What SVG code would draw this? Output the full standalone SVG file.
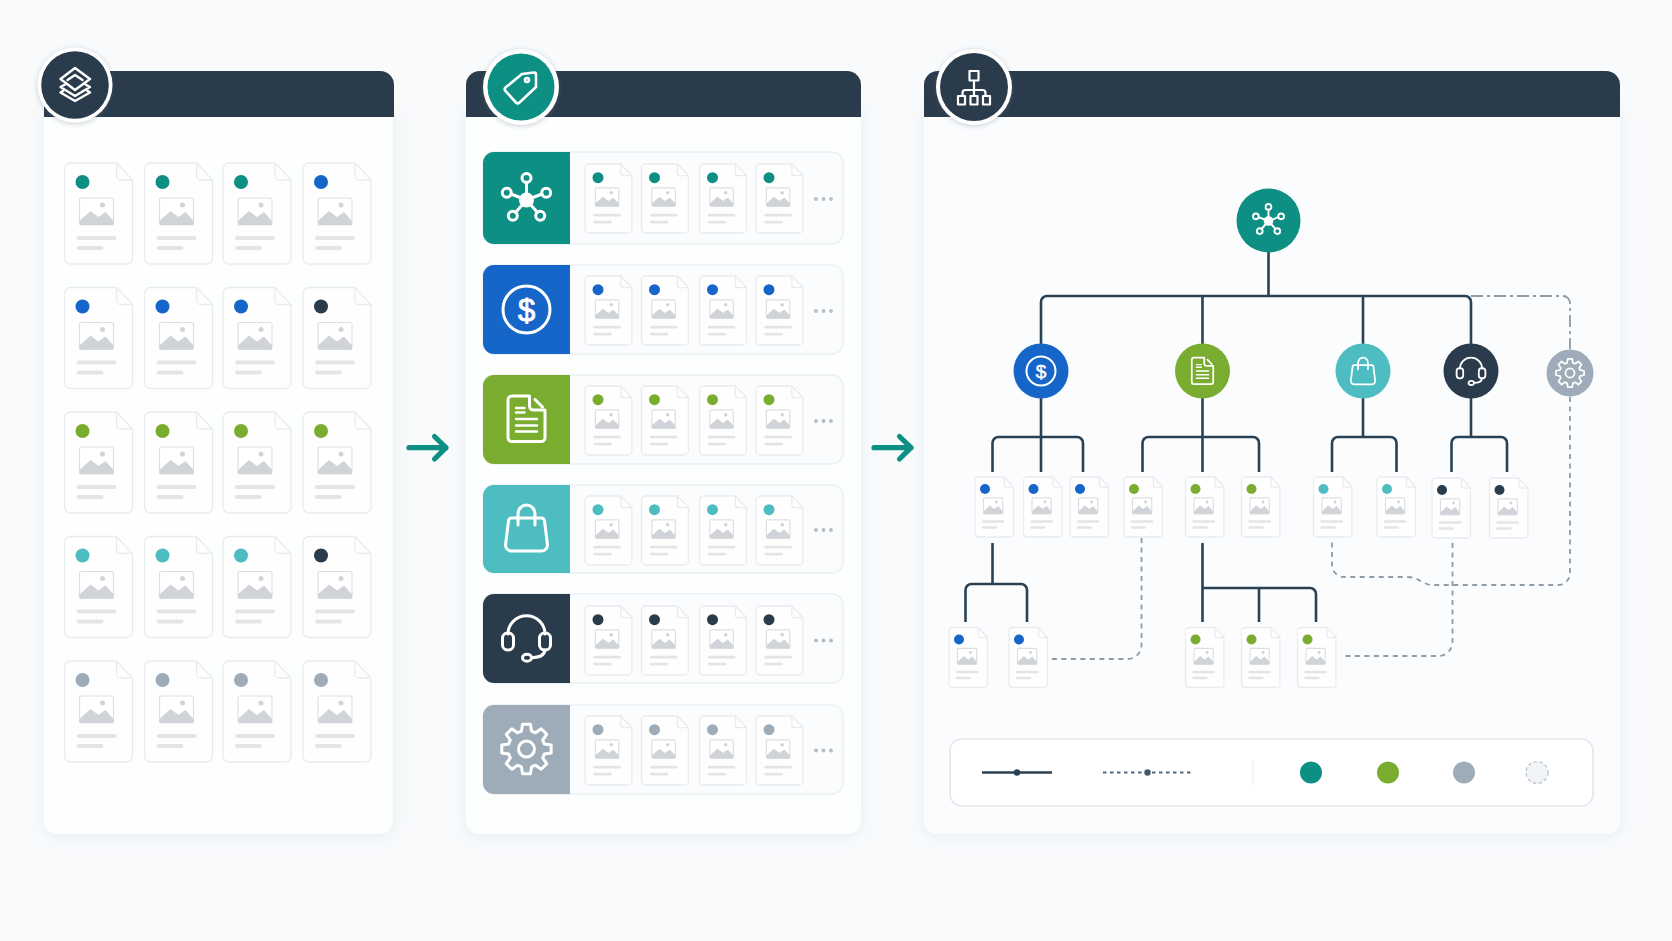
<svg xmlns="http://www.w3.org/2000/svg" width="1672" height="941" viewBox="0 0 1672 941">
<style>
.teal{fill:#0e8f83}.blue{fill:#1566c8}.green{fill:#7aad2f}.cyan{fill:#4dbdc2}.navy{fill:#2a3b4b}.gray{fill:#9eacb9}
.body{fill:#fdfefe;filter:url(#soft)}
.head{fill:#2a3b4b}
.dp{fill:#fefefe;stroke:#e9ecef;stroke-width:1.3;vector-effect:non-scaling-stroke}
.df{fill:none;stroke:#e9ecef;stroke-width:1.3;vector-effect:non-scaling-stroke}
.ib{fill:#fff;stroke:#dcdfe2;stroke-width:1.2;vector-effect:non-scaling-stroke}
.im{fill:#d0d3d7}
.ln{stroke:#e2e5e8;stroke-width:4;stroke-linecap:round;fill:none}
.row{fill:#fbfcfd;stroke:#eceff2;stroke-width:1.3}
.more{fill:#b4bbc2}
.ic{fill:none;stroke:#fff;stroke-width:3;stroke-linecap:round;stroke-linejoin:round}
.icf{fill:#fff}
.ring{fill:#fff;filter:url(#halo)}
.solid{fill:none;stroke:#2a4154;stroke-width:2.6;stroke-linejoin:round}
.dash{fill:none;stroke:#8f9ba6;stroke-width:1.8;stroke-dasharray:5 4.5}
.flow{fill:none;stroke:#0e8f83;stroke-width:5.2;stroke-linecap:round;stroke-linejoin:round}
.usd{font-family:"Liberation Sans",Arial,sans-serif;fill:#fff;stroke:#fff;text-anchor:middle}
</style>
<defs>
<filter id="soft" x="-10%" y="-10%" width="120%" height="120%"><feDropShadow dx="0" dy="2" stdDeviation="8" flood-color="#8596a8" flood-opacity="0.12"/></filter>
<filter id="halo" x="-30%" y="-30%" width="160%" height="160%"><feDropShadow dx="0" dy="1" stdDeviation="2.5" flood-color="#5c6c7c" flood-opacity="0.35"/></filter>
<g id="doc">
<path class="dp" d="M6 0H52L68 17V95a6 6 0 0 1-6 6H6a6 6 0 0 1-6-6V6a6 6 0 0 1 6-6Z"/>
<path class="df" d="M52 0V13a4 4 0 0 0 4 4H68"/>
<rect class="ib" x="15" y="35" width="34" height="27" rx="2"/>
<circle class="im" cx="38" cy="42" r="2.500"/>
<path class="im" d="M15 60V58L26 48L34 54L41 49L49 58V62H17a2 2 0 0 1-2-2Z"/>
<path class="ln" d="M14 75H50M14 85H37"/>
</g>
<g id="docL"><use href="#doc"/><circle cx="18" cy="19" r="7"/></g>
<g id="docM"><use href="#doc" transform="scale(.69 .683)"/><circle cx="13" cy="13.700" r="5.500"/></g>
<g id="docS"><use href="#doc" transform="scale(.566 .594)"/><circle cx="10" cy="12" r="5"/></g>
<g id="hub" class="ic">
<path d="M0 0V-18M0 0L15.500-6M0 0L-15.500-6M0 0L11 12.500M0 0L-11 12.500"/>
<circle cx="0" cy="-22" r="4.500"/><circle cx="19.700" cy="-7.300" r="4.500"/><circle cx="-19.700" cy="-7.300" r="4.500"/><circle cx="13.700" cy="15.700" r="4.500"/><circle cx="-13.700" cy="15.700" r="4.500"/>
<circle class="icf" cx="0" cy="0" r="7.500" stroke="none"/>
</g>
<g id="paper" class="ic">
<path d="M-14.500-23H3V-13a4 4 0 0 0 4 4H18.500V18.500a4 4 0 0 1-4 4H-14.500a4 4 0 0 1-4-4V-19a4 4 0 0 1 4-4Z"/>
<path d="M8.500-19.500L16-12"/>
<path d="M-10.500-11H-2M-10.500-6.500H-2M-10.500 0H10.500M-10.500 6.500H10.500M-10.500 12.500H10.500" stroke-width="2.400"/>
</g>
<g id="bag" class="ic">
<path d="M-15-10H15a3 3 0 0 1 3 3L21 17a6 6 0 0 1-6 6H-15a6 6 0 0 1-6-6L-18-7a3 3 0 0 1 3-3Z"/>
<path d="M-8.500-3V-14a8.500 9 0 0 1 17 0V-3"/>
</g>
<g id="headset" class="ic">
<path d="M-18.500-4V-3a18.500 18.300 0 0 1 37 0V-4"/>
<rect x="-24" y="-4" width="11" height="17" rx="5"/>
<rect x="13" y="-4" width="11" height="17" rx="5"/>
<path d="M18.500 13C18 18 14 20.500 5 20.700"/>
<ellipse cx="0.500" cy="20.700" rx="4.500" ry="3.500"/>
</g>
<g id="gear" class="ic">
<path d="M-5.100-17.780L-3.910-24.690H3.910L5.100-17.780L8.970-16.180L14.690-20.230L20.230-14.690L16.180-8.970L17.780-5.100L24.690-3.910V3.910L17.780 5.100L16.180 8.970L20.230 14.690L14.690 20.230L8.970 16.180L5.100 17.780L3.910 24.690H-3.910L-5.100 17.780L-8.970 16.180L-14.690 20.230L-20.230 14.690L-16.180 8.970L-17.780 5.100L-24.690 3.910V-3.910L-17.780-5.100L-16.180-8.970L-20.230-14.690L-14.690-20.230L-8.970-16.180Z"/>
<circle cx="0" cy="0" r="8"/>
</g>
<g id="more" class="more"><circle cx="0" cy="0" r="1.900"/><circle cx="7.500" cy="0" r="1.900"/><circle cx="15" cy="0" r="1.900"/></g>
</defs>
<rect width="1672" height="941" fill="#f8fafc"/>

<g id="panel-source">
<path class="body" d="M44 110H393V820a14 14 0 0 1-14 14H58a14 14 0 0 1-14-14Z"/>
<path class="head" d="M44 71H380a14 14 0 0 1 14 14V117H44Z"/>
</g>
<g id="badge-source">
<circle class="ring" cx="75" cy="85" r="37.500"/><circle class="navy" cx="75" cy="85" r="33.800"/>
<g class="ic" style="stroke-width:2.400">
<path d="M75 68L90 79L75 90L60.500 79Z"/><path d="M67.500 80L75 75L82.500 80"/>
<path d="M65 84.500L60.500 87L75 96L90 87L85.500 84.500"/><path d="M63.500 90.500L60.500 92.500L75 101L90 92.500L87 90.500"/>
</g>
</g>
<g id="panel-tagged">
<path class="body" d="M466 110H861V820a14 14 0 0 1-14 14H480a14 14 0 0 1-14-14Z"/>
<path class="head" d="M480 71H847a14 14 0 0 1 14 14V117H466V85a14 14 0 0 1 14-14Z"/>
</g>
<g id="badge-tagged">
<circle class="ring" cx="521" cy="87" r="38"/><circle class="teal" cx="521" cy="87" r="33.500"/>
<g class="ic" style="stroke-width:2.600"><path d="M522 74L534 72.500a2 2 0 0 1 2 2V87L519.500 102.500a2.500 2.500 0 0 1-3.500 0L505.500 91a2.500 2.500 0 0 1 0-3.500Z"/><circle cx="527" cy="80" r="2"/></g>
</g>
<g id="panel-tree">
<path class="body" d="M924 110H1620V820a14 14 0 0 1-14 14H938a14 14 0 0 1-14-14Z" style="fill:#fbfcfe"/>
<path class="head" d="M938 71H1606a14 14 0 0 1 14 14V117H924V85a14 14 0 0 1 14-14Z"/>
</g>
<g id="badge-tree">
<circle class="ring" cx="974" cy="87" r="38"/><circle class="navy" cx="974" cy="87" r="34"/>
<g fill="none" stroke="#fff" stroke-width="2.200" stroke-linejoin="round">
<rect x="969.500" y="71" width="9" height="9.500"/><path d="M974 80.500V96M962.500 96V93a3 3 0 0 1 3-3H982.500a3 3 0 0 1 3 3V96"/>
<rect x="958" y="96" width="7" height="8.500"/><rect x="970.500" y="96" width="7" height="8.500"/><rect x="983" y="96" width="7" height="8.500"/>
</g>
</g>

<g id="source-docs">
<g id="s11"><use href="#docL" class="teal" x="64.500" y="163"/></g><g id="s12"><use href="#docL" class="teal" x="144.500" y="163"/></g><g id="s13"><use href="#docL" class="teal" x="223" y="163"/></g><g id="s14"><use href="#docL" class="blue" x="303" y="163"/></g>
<g id="s21"><use href="#docL" class="blue" x="64.500" y="287.500"/></g><g id="s22"><use href="#docL" class="blue" x="144.500" y="287.500"/></g><g id="s23"><use href="#docL" class="blue" x="223" y="287.500"/></g><g id="s24"><use href="#docL" class="navy" x="303" y="287.500"/></g>
<g id="s31"><use href="#docL" class="green" x="64.500" y="412"/></g><g id="s32"><use href="#docL" class="green" x="144.500" y="412"/></g><g id="s33"><use href="#docL" class="green" x="223" y="412"/></g><g id="s34"><use href="#docL" class="green" x="303" y="412"/></g>
<g id="s41"><use href="#docL" class="cyan" x="64.500" y="536.500"/></g><g id="s42"><use href="#docL" class="cyan" x="144.500" y="536.500"/></g><g id="s43"><use href="#docL" class="cyan" x="223" y="536.500"/></g><g id="s44"><use href="#docL" class="navy" x="303" y="536.500"/></g>
<g id="s51"><use href="#docL" class="gray" x="64.500" y="661"/></g><g id="s52"><use href="#docL" class="gray" x="144.500" y="661"/></g><g id="s53"><use href="#docL" class="gray" x="223" y="661"/></g><g id="s54"><use href="#docL" class="gray" x="303" y="661"/></g>
</g>

<g id="cat-network">
<rect class="row" x="483" y="152" width="360" height="92" rx="11"/>
<path class="teal" d="M494 152H570V244H494a11 11 0 0 1-11-11V163a11 11 0 0 1 11-11Z"/>
<use href="#hub" x="526.500" y="200"/>
<use href="#docM" class="teal" x="585" y="164"/><use href="#docM" class="teal" x="641.500" y="164"/><use href="#docM" class="teal" x="699.500" y="164"/><use href="#docM" class="teal" x="756" y="164"/><use href="#more" x="816" y="199"/>
</g>
<g id="cat-finance">
<rect class="row" x="483" y="265" width="360" height="89" rx="11"/>
<path class="blue" d="M494 265H570V354H494a11 11 0 0 1-11-11V276a11 11 0 0 1 11-11Z"/>
<circle class="ic" cx="526.500" cy="309.500" r="23.500"/><text class="usd" x="526.500" y="320.500" font-size="31" stroke-width=".9">$</text>
<use href="#docM" class="blue" x="585" y="276"/><use href="#docM" class="blue" x="641.500" y="276"/><use href="#docM" class="blue" x="699.500" y="276"/><use href="#docM" class="blue" x="756" y="276"/><use href="#more" x="816" y="311"/>
</g>
<g id="cat-documents">
<rect class="row" x="483" y="375" width="360" height="89" rx="11"/>
<path class="green" d="M494 375H570V464H494a11 11 0 0 1-11-11V386a11 11 0 0 1 11-11Z"/>
<use href="#paper" x="526.500" y="419"/>
<use href="#docM" class="green" x="585" y="386"/><use href="#docM" class="green" x="641.500" y="386"/><use href="#docM" class="green" x="699.500" y="386"/><use href="#docM" class="green" x="756" y="386"/><use href="#more" x="816" y="421"/>
</g>
<g id="cat-shopping">
<rect class="row" x="483" y="485" width="360" height="88" rx="11"/>
<path class="cyan" d="M494 485H570V573H494a11 11 0 0 1-11-11V496a11 11 0 0 1 11-11Z"/>
<use href="#bag" x="526.500" y="528"/>
<use href="#docM" class="cyan" x="585" y="496"/><use href="#docM" class="cyan" x="641.500" y="496"/><use href="#docM" class="cyan" x="699.500" y="496"/><use href="#docM" class="cyan" x="756" y="496"/><use href="#more" x="816" y="530"/>
</g>
<g id="cat-support">
<rect class="row" x="483" y="594" width="360" height="89" rx="11"/>
<path class="navy" d="M494 594H570V683H494a11 11 0 0 1-11-11V605a11 11 0 0 1 11-11Z"/>
<use href="#headset" x="526.500" y="637"/>
<use href="#docM" class="navy" x="585" y="606"/><use href="#docM" class="navy" x="641.500" y="606"/><use href="#docM" class="navy" x="699.500" y="606"/><use href="#docM" class="navy" x="756" y="606"/><use href="#more" x="816" y="640.500"/>
</g>
<g id="cat-settings">
<rect class="row" x="483" y="705" width="360" height="89" rx="11"/>
<path class="gray" d="M494 705H570V794H494a11 11 0 0 1-11-11V716a11 11 0 0 1 11-11Z"/>
<use href="#gear" x="526.500" y="749"/>
<use href="#docM" class="gray" x="585" y="716"/><use href="#docM" class="gray" x="641.500" y="716"/><use href="#docM" class="gray" x="699.500" y="716"/><use href="#docM" class="gray" x="756" y="716"/><use href="#more" x="816" y="750.500"/>
</g>

<g id="connectors">
<path class="flow" d="M409 447.700H446M434.500 436.500L446 447.700L434.500 459"/>
<path class="flow" d="M874 447.700H911M899.500 436.500L911 447.700L899.500 459"/>
<path class="solid" d="M1268.500 250V296M1041 345V302a6 6 0 0 1 6-6H1465a6 6 0 0 1 6 6V345M1202.500 296V345M1363 296V345"/>
<path class="solid" d="M1041 396V472M992.500 472V443a6 6 0 0 1 6-6H1077a6 6 0 0 1 6 6V472"/>
<path class="solid" d="M1202.500 396V472M1142.500 472V443a6 6 0 0 1 6-6H1253a6 6 0 0 1 6 6V472"/>
<path class="solid" d="M1363 396V437M1332 472V443a6 6 0 0 1 6-6H1390.500a6 6 0 0 1 6 6V472"/>
<path class="solid" d="M1471 396V437M1451.500 472V443a6 6 0 0 1 6-6H1501a6 6 0 0 1 6 6V472"/>
<path class="solid" d="M992.500 543V584M965.500 622V590a6 6 0 0 1 6-6H1021a6 6 0 0 1 6 6V622"/>
<path class="solid" d="M1202.500 543V622M1202.500 588H1310a6 6 0 0 1 6 6V622M1259 588V622"/>
<path class="dash" style="stroke-dasharray:12 4 3 4" d="M1471 296H1563a7 7 0 0 1 7 7V349"/>
<path class="dash" d="M1570 397V573a12 12 0 0 1-12 12H1432C1424 585 1418 577 1408 577H1344a12 12 0 0 1-12-12V538"/>
<path class="dash" d="M1141.500 538V645a14 14 0 0 1-14 14H1051"/>
<path class="dash" d="M1452.500 543V642a14 14 0 0 1-14 14H1341"/>
</g>

<g id="tree-root"><circle class="teal" cx="1268.500" cy="220.500" r="32"/><use href="#hub" transform="translate(1268.500 221) scale(.64)"/></g>
<g id="tree-finance"><circle class="blue" cx="1041" cy="371" r="27.500"/><circle class="ic" cx="1041" cy="371" r="14.500" style="stroke-width:2"/><text class="usd" x="1041" y="378" font-size="19" stroke-width=".5">$</text></g>
<g id="tree-documents"><circle class="green" cx="1202.500" cy="371" r="27.500"/><use href="#paper" transform="translate(1202.500 371) scale(.58)"/></g>
<g id="tree-shopping"><circle class="cyan" cx="1363" cy="371" r="27.500"/><use href="#bag" transform="translate(1363 371) scale(.58)"/></g>
<g id="tree-support"><circle class="navy" cx="1471" cy="371" r="27.500"/><use href="#headset" transform="translate(1471 370.500) scale(.6)"/></g>
<g id="tree-settings"><circle class="gray" cx="1570" cy="373" r="23.500"/><use href="#gear" transform="translate(1570 373) scale(.57)"/></g>

<g id="tree-docs">
<g id="t1"><use href="#docS" class="blue" x="975" y="477"/></g><g id="t2"><use href="#docS" class="blue" x="1023.500" y="477"/></g><g id="t3"><use href="#docS" class="blue" x="1070" y="477"/></g>
<g id="t4"><use href="#docS" class="green" x="1124" y="477"/></g><g id="t5"><use href="#docS" class="green" x="1185.500" y="477"/></g><g id="t6"><use href="#docS" class="green" x="1241.500" y="477"/></g>
<g id="t7"><use href="#docS" class="cyan" x="1313.500" y="477"/></g><g id="t8"><use href="#docS" class="cyan" x="1377" y="477"/></g>
<g id="t9"><use href="#docS" class="navy" x="1432" y="478"/></g><g id="t10"><use href="#docS" class="navy" x="1489.500" y="478"/></g>
<g id="t11"><use href="#docS" class="blue" x="949" y="627.500"/></g><g id="t12"><use href="#docS" class="blue" x="1009" y="627.500"/></g>
<g id="t13"><use href="#docS" class="green" x="1185.500" y="627.500"/></g><g id="t14"><use href="#docS" class="green" x="1241.500" y="627.500"/></g><g id="t15"><use href="#docS" class="green" x="1297.500" y="627.500"/></g>
</g>

<g id="legend">
<rect x="950" y="739" width="643" height="67" rx="12" fill="#fff" stroke="#e3e7eb" stroke-width="1.600"/>
<path d="M982 772.500H1052" stroke="#2a4154" stroke-width="2.600"/><circle cx="1017" cy="772.500" r="3.200" fill="#2a4154"/>
<path d="M1103 772.500H1193" stroke="#56677a" stroke-width="1.800" stroke-dasharray="3.500 3.500"/><circle cx="1147.500" cy="772.500" r="3.200" fill="#46586e"/>
<path d="M1253 760V785" stroke="#eef1f3" stroke-width="1.200"/>
<circle class="teal" cx="1311" cy="772.500" r="11"/><circle class="green" cx="1388" cy="772.500" r="11"/><circle class="gray" cx="1464" cy="772.500" r="11"/>
<circle cx="1537" cy="772.500" r="11" fill="#f1f4f7" stroke="#b8c1ca" stroke-width="1.200" stroke-dasharray="3.500 2.500"/>
</g>
</svg>
